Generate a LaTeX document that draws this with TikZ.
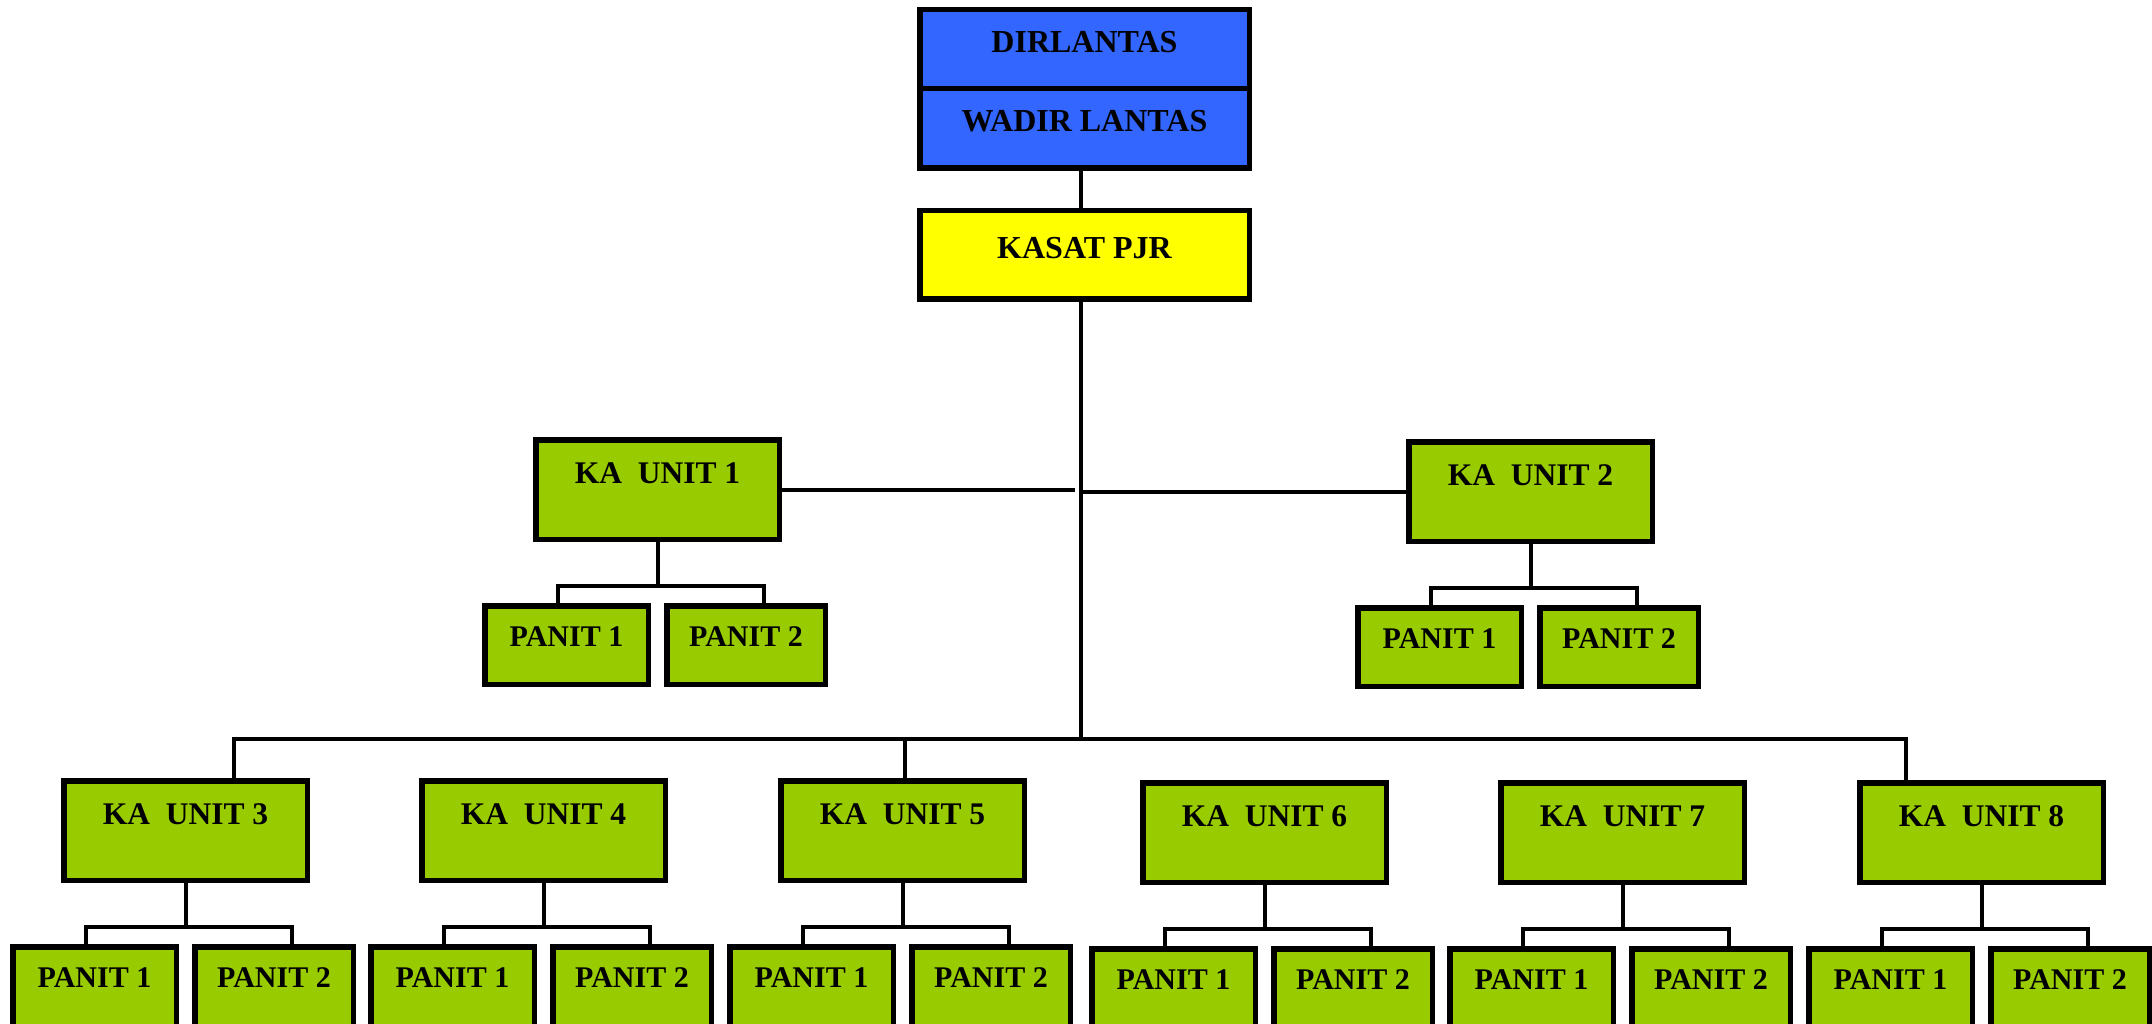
\documentclass[tikz,border=0pt]{standalone}
\usepackage{fontspec}
\setmainfont{Liberation Serif}
\usetikzlibrary{calc}
\definecolor{dblue}{HTML}{3366FF}
\definecolor{dyellow}{HTML}{FFFF00}
\definecolor{dgreen}{HTML}{99CC00}
\newcommand\ftop{\bfseries\fontsize{32}{36}\selectfont}
\newcommand\funit{\bfseries\fontsize{31.5}{36}\selectfont}
\newcommand\fpanit{\bfseries\fontsize{30}{36}\selectfont}
\tikzset{
  box/.style={draw=black, line width=5.5pt, inner sep=0pt, anchor=center},
  conn/.style={draw=black, line width=4pt}
}
% #1 name, #2 left, #3 right, #4 top, #5 bottom, #6 baseline, #7 fill, #8 font, #9 text
\newcommand\bx[9]{%
  \pgfmathsetmacro\bxW{(#3)-(#2)-5.5}%
  \pgfmathsetmacro\bxH{(#5)-(#4)-5.5}%
  \pgfmathsetmacro\bxT{(#6)-(#4)-2.75}%
  \pgfmathsetmacro\bxD{(#5)-(#6)-2.75}%
  \pgfmathsetmacro\bxX{((#2)+(#3))/2}%
  \pgfmathsetmacro\bxY{((#4)+(#5))/2}%
  \node[box, fill=#7, font=#8, minimum width=\bxW pt, minimum height=\bxH pt,
        text height=\bxT pt, text depth=\bxD pt] (#1) at (\bxX,\bxY) {#9};%
}
% #1 id, #2 left, #3 top, #4 panit height
\newcommand\grp[4]{%
  \bx{u#1}{#2}{(#2)+249}{#3}{(#3)+105}{(#3)+46}{dgreen}{\funit}{KA~~UNIT #1}
  \bx{p#1a}{(#2)-51}{(#2)+118}{(#3)+166}{(#3)+166+(#4)}{(#3)+209}{dgreen}{\fpanit}{PANIT 1}
  \bx{p#1b}{(#2)+131}{(#2)+295}{(#3)+166}{(#3)+166+(#4)}{(#3)+209}{dgreen}{\fpanit}{PANIT 2}
  \draw[conn] (u#1.south) -- ++(0,44) coordinate (j#1);
  \draw[conn] ($(p#1a.north)+(-9,0)$) |- (j#1) -| ($(p#1b.north)+(17.5,0)$);
}
\begin{document}
\begin{tikzpicture}[x=1pt,y=-1pt]
\path[use as bounding box] (0,0) rectangle (2152,1024);
\clip (0,0) rectangle (2152,1024);
\fill[white] (0,0) rectangle (2152,1024);

\bx{dir}{917}{1252}{7}{92}{53}{dblue}{\ftop}{DIRLANTAS}
\bx{wadir}{917}{1252}{86}{171}{132}{dblue}{\ftop}{WADIR LANTAS}
\bx{kasat}{917}{1252}{208}{302}{259}{dyellow}{\ftop}{KASAT PJR}

\grp{1}{533}{437}{84}
\grp{2}{1406}{439}{84}
\grp{3}{61}{778}{110}
\grp{4}{419}{778}{110}
\grp{5}{778}{778}{110}
\grp{6}{1140}{780}{110}
\grp{7}{1498}{780}{110}
\grp{8}{1857}{780}{110}

\coordinate (bus) at (1081,739);
\coordinate (gapL) at (1075,0);
\draw[conn] ($(wadir.south)+(-3.5,0)$) -- ($(kasat.north)+(-3.5,0)$);
\draw[conn] (kasat.south -| bus) -- (bus);
\draw[conn] (u1.east) -- (u1.east -| gapL);
\draw[conn] (u2.west) -- (u2.west -| bus);
\draw[conn] ($(u3.north)+(48.5,0)$) |- (bus) -| ($(u8.north)+(-75.5,0)$);
\coordinate (d5) at ($(u5.north)+(2.5,0)$);
\draw[conn] (d5) -- (d5 |- bus);
\end{tikzpicture}
\end{document}
